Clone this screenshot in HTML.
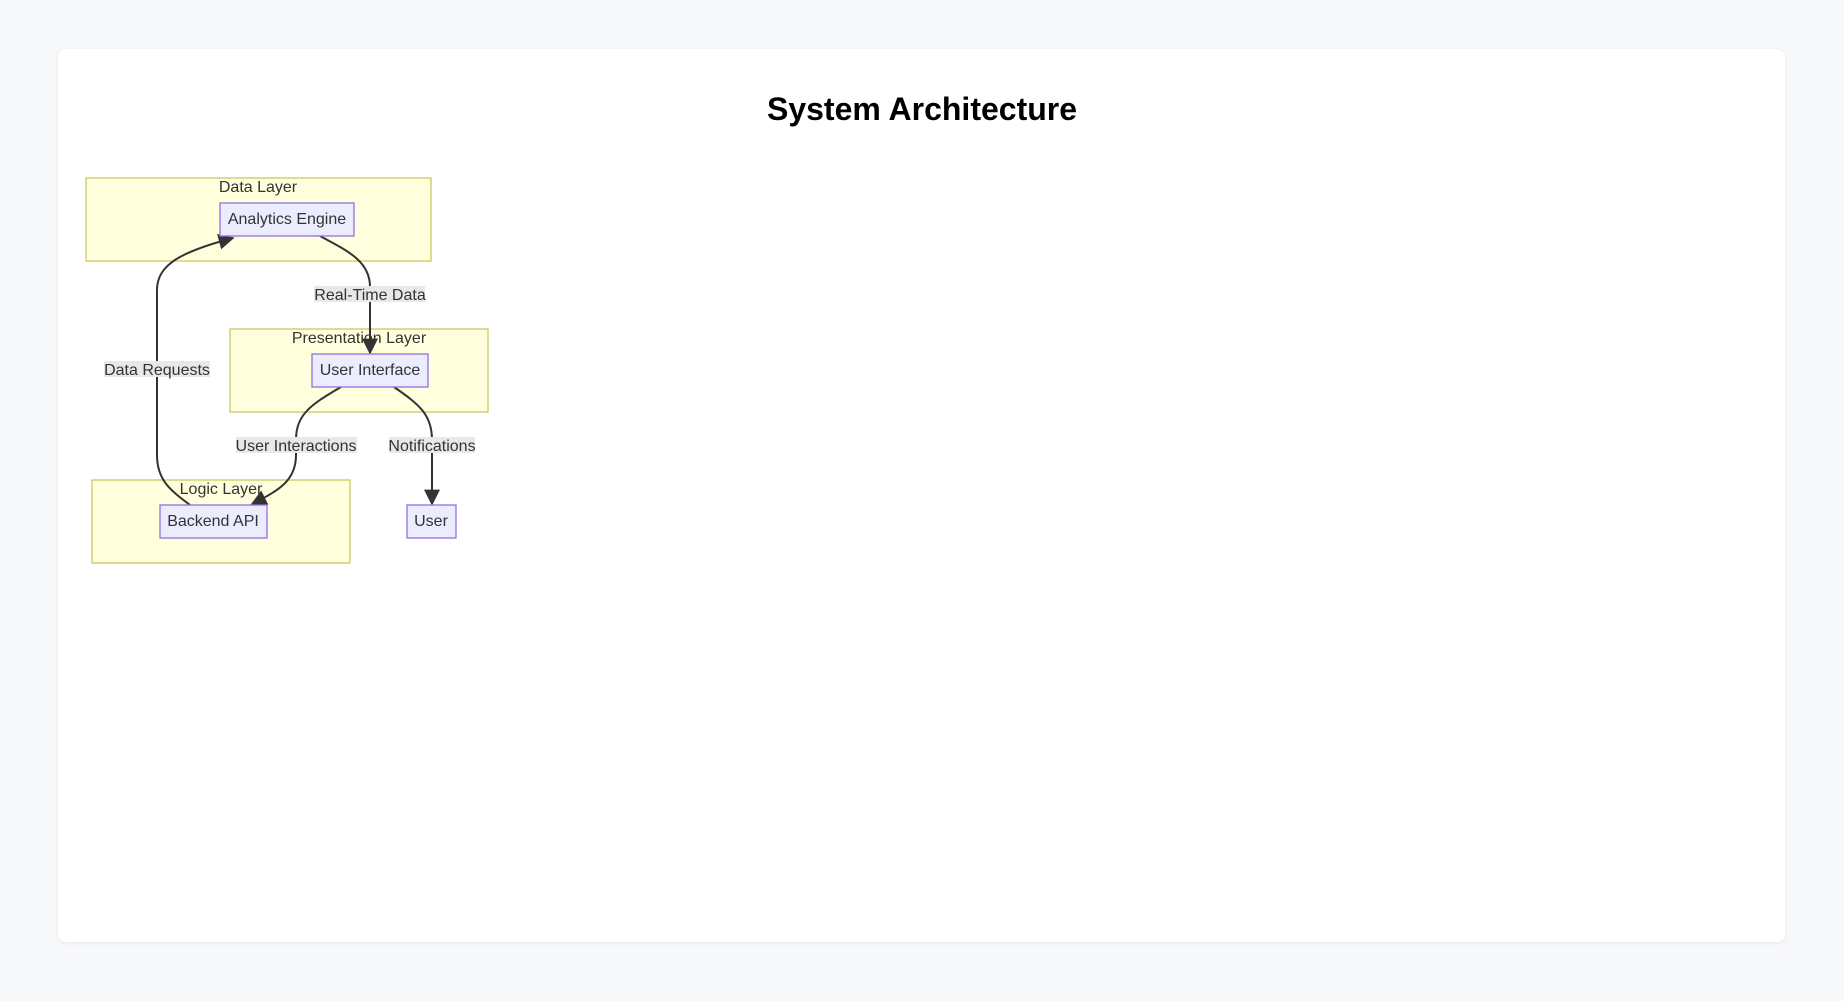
<!DOCTYPE html>
<html><head><style>
body{margin:0;width:1844px;height:1001px;background:#f7f8fa;font-family:"Liberation Sans",Arial,sans-serif;overflow:hidden;position:relative}
.card{position:absolute;left:58px;top:49px;width:1727px;height:893px;background:#fff;border-radius:8px;box-shadow:0 1px 4px rgba(0,0,0,0.08)}
h1{position:absolute;left:0;width:1844px;top:91px;margin:0;text-align:center;font-size:32px;font-weight:bold;color:#000}
svg{position:absolute;left:0;top:0}
</style></head><body>
<div class="card"></div>
<h1>System Architecture</h1>
<svg width="1844" height="1001" font-family="Liberation Sans, Arial, sans-serif" font-size="16" fill="#333">
<defs><marker id="a" viewBox="0 0 10 10" refX="9" refY="5" markerWidth="8" markerHeight="8" orient="auto"><path d="M0,0L10,5L0,10z" fill="#333"/></marker></defs>
<g fill="#ffffde" stroke="#c8c864" stroke-width="1.3">
<rect x="86" y="178" width="345" height="83"/>
<rect x="230" y="329" width="258" height="83"/>
<rect x="92" y="480" width="258" height="83"/>
</g>
<g fill="#333" text-anchor="middle">
<text x="258" y="192">Data Layer</text>
<text x="359" y="343">Presentation Layer</text>
<text x="221" y="494">Logic Layer</text>
</g>
<g fill="none" stroke="#333" stroke-width="2">
<path d="M190,505 C170,490 157,480 157,455 L157,290 C157,265 180,252 233,238" marker-end="url(#a)"/>
<path d="M320,236 C350,252 370,262 370,287 L370,353" marker-end="url(#a)"/>
<path d="M341,387 C310,405 296,415 296,440 L296,455 C296,480 280,490 252,504" marker-end="url(#a)"/>
<path d="M394,387 C420,405 432,415 432,440 L432,504" marker-end="url(#a)"/>
</g>
<g fill="#ececff" stroke="#9370db" stroke-width="1.3">
<rect x="220" y="203" width="134" height="33"/>
<rect x="312" y="354" width="116" height="33"/>
<rect x="160" y="505" width="107" height="33"/>
<rect x="407" y="505" width="49" height="33"/>
</g>
<g fill="#333" text-anchor="middle">
<text x="287" y="224">Analytics Engine</text>
<text x="370" y="375">User Interface</text>
<text x="213" y="526">Backend API</text>
<text x="431" y="526">User</text>
</g>
<g fill="#e8e8e8">
<rect x="314" y="286" width="111" height="16"/>
<rect x="104" y="361" width="106" height="16"/>
<rect x="236" y="437" width="121" height="16"/>
<rect x="389" y="437" width="86" height="16"/>
</g>
<g fill="#333" text-anchor="middle">
<text x="370" y="300">Real-Time Data</text>
<text x="157" y="375">Data Requests</text>
<text x="296" y="451">User Interactions</text>
<text x="432" y="451">Notifications</text>
</g>
</svg>
</body></html>
